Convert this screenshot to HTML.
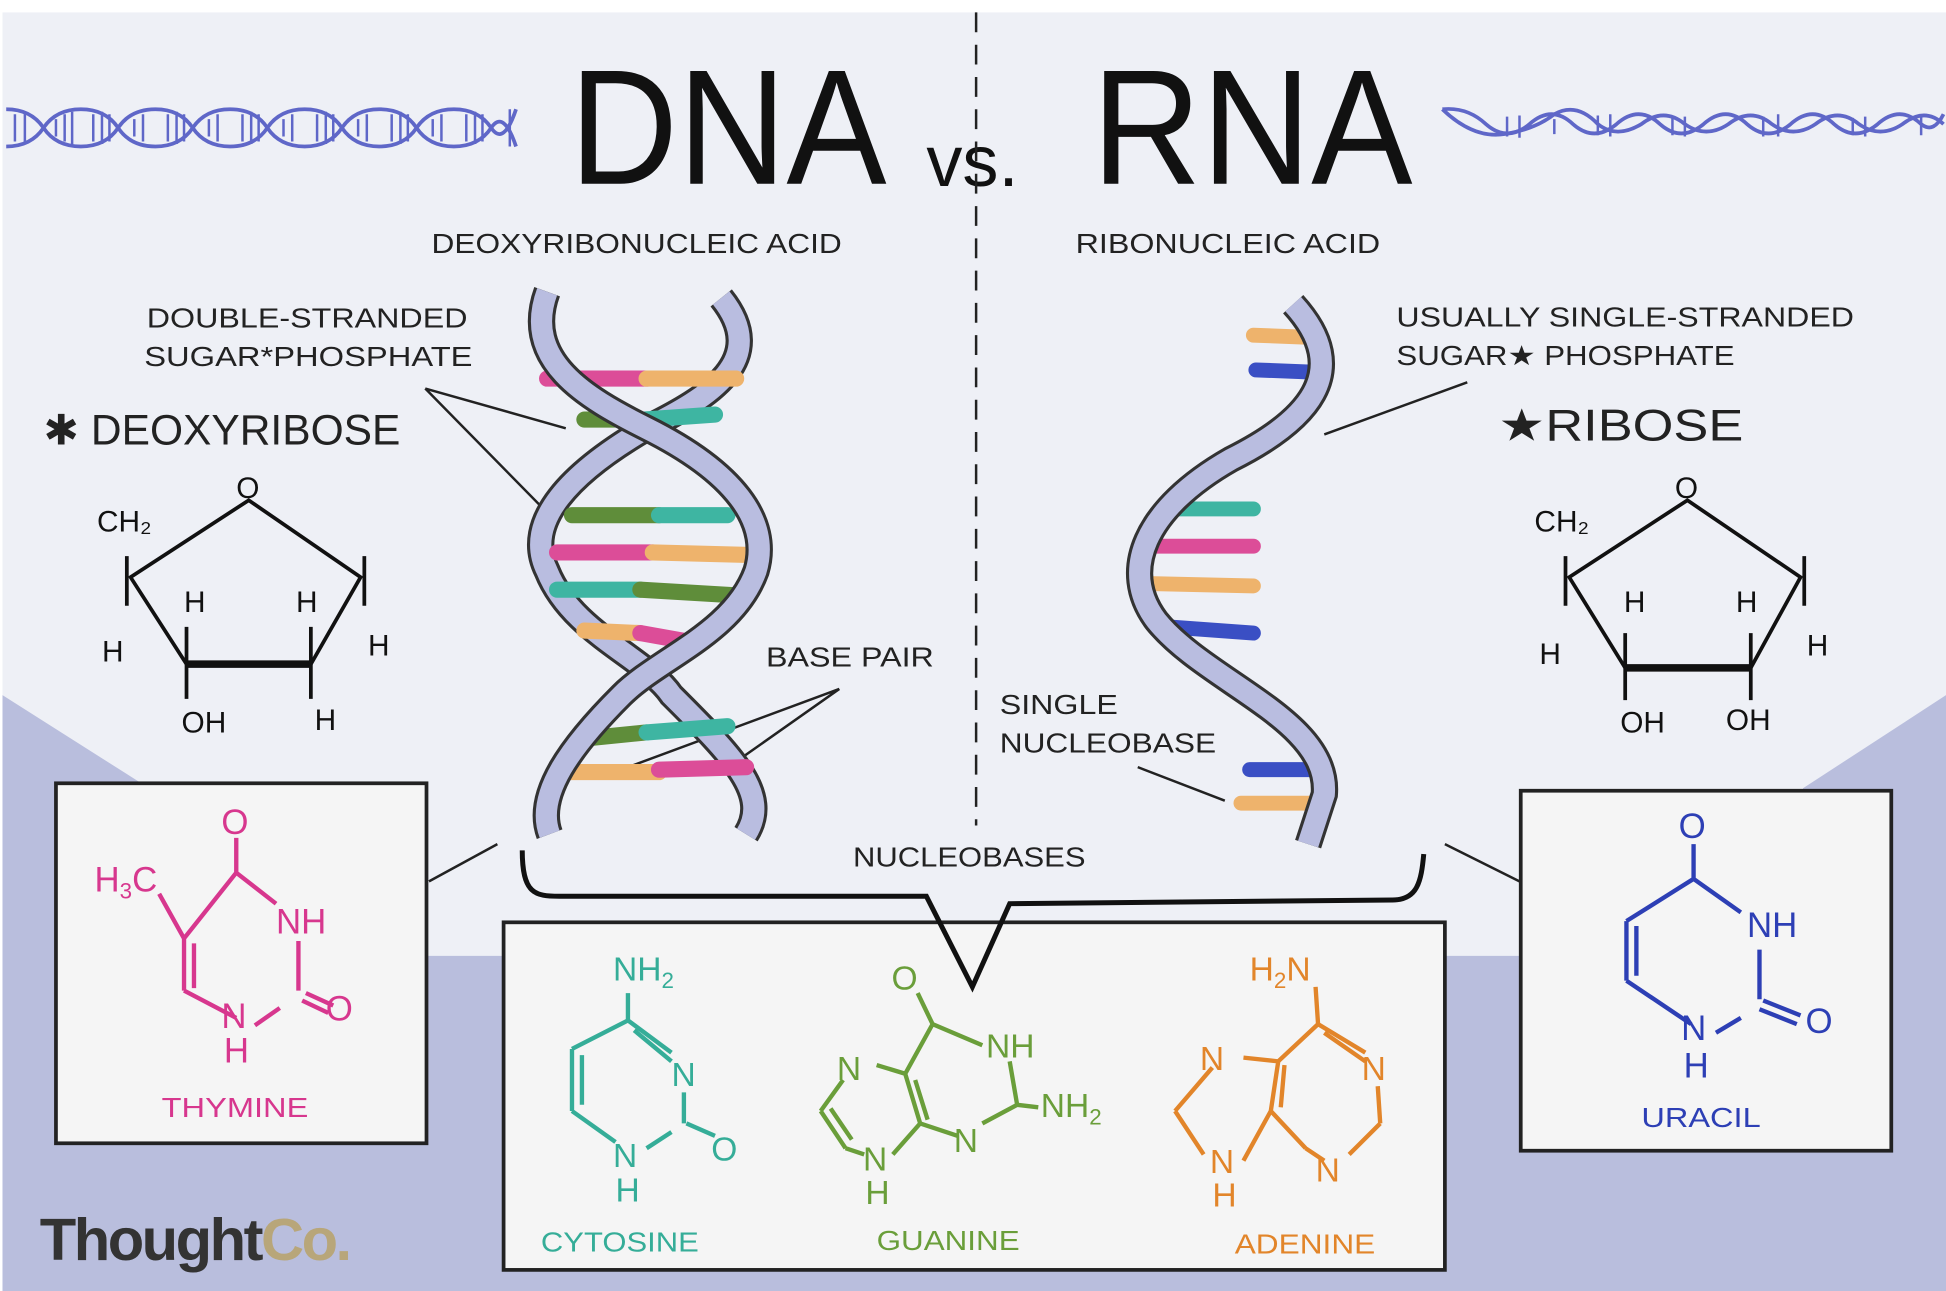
<!DOCTYPE html>
<html><head><meta charset="utf-8"><style>
html,body{margin:0;padding:0;background:#fff}
svg{display:block}
text{font-family:"Liberation Sans",sans-serif}
</style></head><body>
<svg width="1946" height="1291" viewBox="0 0 1565 1040" preserveAspectRatio="none" xmlns="http://www.w3.org/2000/svg">
<rect x="0" y="0" width="1565" height="1040" fill="#fff"/>
<rect x="2" y="10" width="1563" height="1030" fill="#eef0f6"/>
<path d="M2,560 L120,635 L120,770 L1450,770 L1450,635 L1565,560 L1565,1040 L2,1040 Z" fill="#b9bedd"/>

<!-- left mini helix -->
<g fill="none" stroke="#5f67c8" stroke-width="3">
<path d="M5,88 Q25,88 35,103 T65,118 T95,103 T125,88 T155,103 T185,118 T215,103 T245,88 T275,103 T305,118 T335,103 T365,88 T395,103 T415,88"/>
<path d="M5,118 Q25,118 35,103 T65,88 T95,103 T125,118 T155,103 T185,88 T215,103 T245,118 T275,103 T305,88 T335,103 T365,118 T395,103 T415,118"/>
<path d="M12,92v22M20,90v26M45,96v14M52,92v22M58,90v26M75,92v22M82,90v26M88,92v22M108,96v14M115,92v22M135,92v22M142,90v26M148,92v22M168,96v14M175,92v22M195,92v22M202,90v26M208,92v22M228,96v14M235,92v22M255,92v22M262,90v26M268,92v22M288,96v14M295,92v22M315,92v22M322,90v26M328,92v22M348,96v14M355,92v22M375,92v22M382,90v26M388,92v22M410,88v30" stroke-width="2"/>
</g>
<!-- right mini helix -->
<g fill="none" stroke="#5f67c8" stroke-width="3">
<path d="M1160,88 Q1180,86 1195,100 Q1212,115 1230,100 Q1248,84 1265,100 Q1282,115 1300,100 Q1318,84 1335,100 Q1352,115 1370,100 Q1388,84 1405,100 Q1422,115 1440,100 Q1458,84 1475,100 Q1492,115 1510,100 Q1528,84 1545,100 Q1555,108 1563,92"/>
<path d="M1160,88 Q1185,112 1210,108 Q1235,104 1250,92 Q1268,82 1285,100 Q1300,112 1320,100 Q1338,86 1355,100 Q1372,112 1390,100 Q1408,86 1425,100 Q1442,112 1460,100 Q1478,86 1495,100 Q1512,112 1530,100 Q1548,86 1563,100"/>
<path d="M1212,94v16M1222,93v18M1250,96v12M1285,93v16M1295,92v18M1345,95v14M1355,94v16M1418,94v16M1430,92v18M1490,95v14M1500,94v16M1545,93v16" stroke-width="2"/>
</g>

<!-- titles -->
<text x="458" y="148" font-size="132" fill="#111" textLength="255" lengthAdjust="spacingAndGlyphs">DNA</text>
<text x="745" y="150" font-size="58" fill="#111">vs.</text>
<text x="878" y="148" font-size="132" fill="#111" textLength="258" lengthAdjust="spacingAndGlyphs">RNA</text>
<line x1="785" y1="10" x2="785" y2="665" stroke="#222" stroke-width="2" stroke-dasharray="16,10"/>

<g font-size="22" fill="#222">
<text x="347" y="204" textLength="330" lengthAdjust="spacingAndGlyphs">DEOXYRIBONUCLEIC ACID</text>
<text x="865" y="204" textLength="245" lengthAdjust="spacingAndGlyphs">RIBONUCLEIC ACID</text>
<text x="118" y="264" textLength="258" lengthAdjust="spacingAndGlyphs">DOUBLE-STRANDED</text>
<text x="116" y="295" textLength="264" lengthAdjust="spacingAndGlyphs">SUGAR*PHOSPHATE</text>
<text x="1123" y="263" textLength="368" lengthAdjust="spacingAndGlyphs">USUALLY SINGLE-STRANDED</text>
<text x="1123" y="294" textLength="272" lengthAdjust="spacingAndGlyphs">SUGAR★ PHOSPHATE</text>
<text x="616" y="537" textLength="135" lengthAdjust="spacingAndGlyphs">BASE PAIR</text>
<text x="804" y="575" textLength="95" lengthAdjust="spacingAndGlyphs">SINGLE</text>
<text x="804" y="606" textLength="174" lengthAdjust="spacingAndGlyphs">NUCLEOBASE</text>
<text x="686" y="698" textLength="187" lengthAdjust="spacingAndGlyphs">NUCLEOBASES</text>
</g>
<text x="35" y="358" font-size="34" fill="#222" textLength="287" lengthAdjust="spacingAndGlyphs">✱ DEOXYRIBOSE</text>
<text x="1205" y="355" font-size="36" fill="#222" textLength="197" lengthAdjust="spacingAndGlyphs">★RIBOSE</text>

<!-- pointer lines -->
<g stroke="#222" stroke-width="2" fill="none">
<path d="M342,313 L455,345 M342,313 L445,418"/>
<path d="M1180,308 L1065,350"/>
<path d="M675,555 L505,618 M675,555 L590,615"/>
<path d="M915,618 L985,645"/>
<path d="M400,680 L345,710 M1162,680 L1222,710"/>
</g>

<!-- DNA helix -->
<g fill="none">
<path d="M580,240 C620,290 570,320 520,345 C460,380 420,420 440,460 C460,510 520,530 540,560 C590,610 620,640 600,672" stroke="#333" stroke-width="22"/>
<path d="M580,240 C620,290 570,320 520,345 C460,380 420,420 440,460 C460,510 520,530 540,560 C590,610 620,640 600,672" stroke="#b9bde0" stroke-width="17"/>
</g>
<g stroke-linecap="round" stroke-width="13">
<line x1="440" y1="305" x2="520" y2="305" stroke="#dc4d98"/><line x1="520" y1="305" x2="592" y2="305" stroke="#eeb36c"/>
<line x1="470" y1="338" x2="518" y2="338" stroke="#5f8d3a"/><line x1="518" y1="338" x2="575" y2="334" stroke="#3eb5a2"/>
<line x1="460" y1="415" x2="530" y2="415" stroke="#5f8d3a"/><line x1="530" y1="415" x2="585" y2="415" stroke="#3eb5a2"/>
<line x1="448" y1="445" x2="525" y2="445" stroke="#dc4d98"/><line x1="525" y1="445" x2="602" y2="447" stroke="#eeb36c"/>
<line x1="448" y1="475" x2="515" y2="475" stroke="#3eb5a2"/><line x1="515" y1="475" x2="598" y2="480" stroke="#5f8d3a"/>
<line x1="470" y1="508" x2="515" y2="510" stroke="#eeb36c"/><line x1="515" y1="510" x2="560" y2="518" stroke="#dc4d98"/>
<line x1="470" y1="595" x2="520" y2="590" stroke="#5f8d3a"/><line x1="520" y1="590" x2="585" y2="585" stroke="#3eb5a2"/>
<line x1="450" y1="622" x2="530" y2="622" stroke="#eeb36c"/><line x1="530" y1="620" x2="600" y2="618" stroke="#dc4d98"/>
</g>
<g fill="none">
<path d="M440,235 C420,290 470,320 520,345 C590,380 620,420 608,460 C590,510 530,530 500,560 C460,600 430,640 442,672" stroke="#333" stroke-width="22"/>
<path d="M440,235 C420,290 470,320 520,345 C590,380 620,420 608,460 C590,510 530,530 500,560 C460,600 430,640 442,672" stroke="#b9bde0" stroke-width="17"/>
</g>

<!-- RNA strand -->
<g stroke-linecap="round" stroke-width="12">
<line x1="1008" y1="270" x2="1060" y2="272" stroke="#eeb36c"/>
<line x1="1010" y1="298" x2="1062" y2="300" stroke="#3a4fc4"/>
<line x1="940" y1="410" x2="1008" y2="410" stroke="#3eb5a2"/>
<line x1="920" y1="440" x2="1008" y2="440" stroke="#dc4d98"/>
<line x1="920" y1="470" x2="1008" y2="472" stroke="#eeb36c"/>
<line x1="940" y1="505" x2="1008" y2="510" stroke="#3a4fc4"/>
<line x1="1005" y1="620" x2="1062" y2="620" stroke="#3a4fc4"/>
<line x1="998" y1="647" x2="1055" y2="647" stroke="#eeb36c"/>
</g>
<g fill="none">
<path d="M1040,245 C1090,300 1050,340 990,370 C920,410 900,460 930,500 C970,550 1070,580 1065,640 L1052,680" stroke="#333" stroke-width="22"/>
<path d="M1040,245 C1090,300 1050,340 990,370 C920,410 900,460 930,500 C970,550 1070,580 1065,640 L1052,680" stroke="#b9bde0" stroke-width="17"/>
</g>

<!-- sugar rings -->
<g stroke="#111" stroke-width="3" fill="none">
<path d="M200,403 L105,465 L150,535 L250,535 L290,465 Z"/>
<path d="M150,535 L250,535" stroke-width="6"/>
<path d="M102,448v40M293,448v40M150,505v30M250,505v30M150,535v28M250,535v28"/>
<path d="M1357,403 L1262,465 L1307,538 L1408,538 L1448,465 Z"/>
<path d="M1307,538 L1408,538" stroke-width="6"/>
<path d="M1259,448v40M1451,448v40M1307,510v28M1408,510v28M1307,538v26M1408,538v26"/>
</g>
<g font-size="24" fill="#111">
<text x="190" y="401">O</text><text x="78" y="428">CH₂</text>
<text x="148" y="493">H</text><text x="238" y="493">H</text><text x="82" y="533">H</text><text x="296" y="528">H</text>
<text x="146" y="590">OH</text><text x="253" y="588">H</text>
<text x="1347" y="401">O</text><text x="1234" y="428">CH₂</text>
<text x="1306" y="493">H</text><text x="1396" y="493">H</text><text x="1238" y="535">H</text><text x="1453" y="528">H</text>
<text x="1303" y="590">OH</text><text x="1388" y="588">OH</text>
</g>

<!-- boxes -->
<g fill="#f5f5f5" stroke="#222" stroke-width="3">
<rect x="45" y="631" width="298" height="290"/>
<rect x="405" y="743" width="757" height="280"/>
<rect x="1223" y="637" width="298" height="290"/>
</g>
<!-- brace -->
<path d="M745,745 L782,795 L812,745 Z" fill="#f5f5f5"/>
<path d="M420,685 C420,720 430,722 450,722 L745,722 L782,795 L812,728 L1120,725 C1140,725 1143,710 1145,688" fill="none" stroke="#111" stroke-width="4"/>

<!-- thymine -->
<g stroke="#d7378e" stroke-width="3.5" fill="none">
<path d="M190,675v28 M190,703 L222,728 M240,758v40 M225,812 L205,826 M190,820 L148,798 M148,798v-42 M148,756 L190,703 M156,796v-36 M148,756 L128,720 M246,800 L268,810 M243,806 L264,816"/>
</g>
<g fill="#d7378e" font-size="28"><text x="178" y="672">O</text><text x="76" y="718">H<tspan font-size="18" dy="6">3</tspan><tspan dy="-6">C</tspan></text><text x="222" y="752">NH</text><text x="262" y="822">O</text><text x="178" y="828">N</text><text x="180" y="856">H</text><text x="130" y="900" font-size="22" textLength="118" lengthAdjust="spacingAndGlyphs">THYMINE</text></g>

<!-- uracil -->
<g stroke="#2d3fb5" stroke-width="3.5" fill="none">
<path d="M1362,680v28 M1362,708 L1400,735 M1415,765v40 M1400,820 L1380,832 M1360,825 L1308,790 M1308,790v-48 M1308,742 L1362,708 M1316,786v-40 M1418,806 L1448,818 M1415,813 L1445,825"/>
</g>
<g fill="#2d3fb5" font-size="28"><text x="1350" y="675">O</text><text x="1405" y="755">NH</text><text x="1452" y="832">O</text><text x="1352" y="838">N</text><text x="1354" y="868">H</text><text x="1320" y="908" font-size="22" textLength="96" lengthAdjust="spacingAndGlyphs">URACIL</text></g>

<!-- cytosine -->
<g stroke="#35ad98" stroke-width="3.5" fill="none">
<path d="M505,800v22 M505,822 L540,848 M550,880v25 M540,912 L520,925 M495,920 L460,895 M460,895v-50 M460,845 L505,822 M468,890v-40 M510,830 L540,855 M552,905 L575,915"/>
</g>
<g fill="#35ad98" font-size="27"><text x="493" y="790">NH<tspan font-size="18" dy="6">2</tspan></text><text x="540" y="875">N</text><text x="572" y="935">O</text><text x="493" y="940">N</text><text x="495" y="968">H</text><text x="435" y="1008" font-size="22" textLength="127" lengthAdjust="spacingAndGlyphs">CYTOSINE</text></g>

<!-- guanine -->
<g stroke="#6a9e3a" stroke-width="3.5" fill="none">
<path d="M738,800 L750,825 M750,825 L790,842 M812,855 L818,890 M818,890 L835,892 M818,890 L790,905 M770,915 L740,905 M740,905 L728,865 M728,865 L750,825 M736,870 L746,902 M728,865 L705,858 M678,870 L660,895 M660,895 L680,925 M680,925 L695,930 M718,930 L740,905 M668,893 L685,918"/>
</g>
<g fill="#6a9e3a" font-size="27"><text x="717" y="797">O</text><text x="793" y="852">NH</text><text x="837" y="900">NH<tspan font-size="18" dy="6">2</tspan></text><text x="767" y="928">N</text><text x="673" y="870">N</text><text x="694" y="943">N</text><text x="696" y="970">H</text><text x="705" y="1007" font-size="22" textLength="115" lengthAdjust="spacingAndGlyphs">GUANINE</text></g>

<!-- adenine -->
<g stroke="#e2852a" stroke-width="3.5" fill="none">
<path d="M1058,795 L1060,825 M1060,825 L1098,848 M1108,875 L1110,905 M1110,905 L1085,930 M1065,935 L1050,925 M1050,925 L1022,895 M1022,895 L1028,855 M1028,855 L1060,825 M1033,858 L1030,892 M1028,855 L1000,852 M975,860 L945,895 M945,895 L968,930 M1000,935 L1022,895 M1065,832 L1098,855"/>
</g>
<g fill="#e2852a" font-size="27"><text x="1005" y="790">H<tspan font-size="18" dy="6">2</tspan><tspan dy="-6">N</tspan></text><text x="1095" y="870">N</text><text x="965" y="862">N</text><text x="1058" y="952">N</text><text x="973" y="945">N</text><text x="975" y="972">H</text><text x="993" y="1010" font-size="22" textLength="113" lengthAdjust="spacingAndGlyphs">ADENINE</text></g>

<!-- logo -->
<text x="32" y="1015" font-size="48" font-weight="bold" fill="#333" letter-spacing="-2">Thought<tspan fill="#b8a67a">Co.</tspan></text>
</svg>
</body></html>
